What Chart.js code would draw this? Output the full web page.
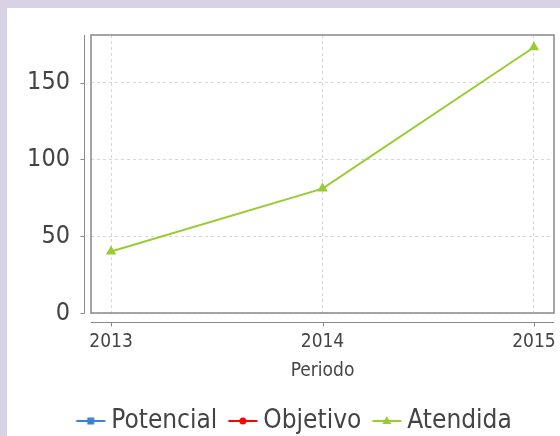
<!DOCTYPE html>
<html>
<head>
<meta charset="utf-8">
<script src="https://cdn.jsdelivr.net/npm/chart.js@4/dist/chart.umd.min.js"></script>
<style>
  html, body { margin: 0; padding: 0; background: #d9d1e4; }
  #wrap { position: absolute; left: 7px; top: 8px; width: 553px; height: 428px; background: #fff; }
  canvas { display: block; }
</style>
</head>
<body>
<div id="wrap"><canvas id="chart" width="553" height="428"></canvas></div>
<script>
const years = [2013, 2014, 2015]
const potencial = [null, null, null]
const objetivo = [null, null, null]
const atendida = [40, 81, 173]
const yTicks = [0, 50, 100, 150]

const FONT = '"DejaVu Sans Condensed", "DejaVu Sans", sans-serif'
const green = '#99cc33'

// legend symbol: short line with a marker in the middle
function makeSymbol(color, style) {
  const c = document.createElement('canvas')
  c.width = 44
  c.height = 20
  const g = c.getContext('2d')
  g.strokeStyle = color
  g.fillStyle = color
  g.lineWidth = 2
  g.beginPath()
  g.moveTo(14.5, 10)
  g.lineTo(43.5, 10)
  g.stroke()
  const cx = 29, cy = 10
  g.beginPath()
  if (style === 'rect') {
    g.fillRect(cx - 3.5, cy - 3.5, 7, 7)
  } else if (style === 'circle') {
    g.arc(cx, cy, 3.5, 0, Math.PI * 2)
    g.fill()
  } else {
    g.moveTo(cx, cy - 5)
    g.lineTo(cx + 4.5, cy + 3)
    g.lineTo(cx - 4.5, cy + 3)
    g.closePath()
    g.fill()
  }
  return c
}

const symbols = [
  makeSymbol('#3e7fcf', 'rect'),
  makeSymbol('#ff0000', 'circle'),
  makeSymbol(green, 'triangle')
]

// plot outline, offset axis lines and tick marks
const frame = {
  id: 'frame',
  afterDraw(chart) {
    const { ctx, chartArea: a, scales } = chart
    ctx.save()
    ctx.strokeStyle = '#888'
    ctx.lineWidth = 1.5
    ctx.strokeRect(a.left, a.top, a.right - a.left, a.bottom - a.top)
    ctx.lineWidth = 1
    const ax = Math.round(a.left - 7) + 0.5
    const ay = Math.round(a.bottom + 9) + 0.5
    ctx.beginPath()
    ctx.moveTo(ax, a.top)
    ctx.lineTo(ax, a.bottom)
    ctx.moveTo(a.left, ay)
    ctx.lineTo(a.right, ay)
    yTicks.forEach(v => {
      const y = Math.round(scales.y.getPixelForValue(v)) + 0.5
      ctx.moveTo(ax - 4, y)
      ctx.lineTo(ax, y)
    })
    years.forEach(v => {
      const x = Math.round(scales.x.getPixelForValue(v)) + 0.5
      ctx.moveTo(x, ay)
      ctx.lineTo(x, ay + 4)
    })
    ctx.stroke()
    ctx.restore()
  }
}

new Chart(document.getElementById('chart'), {
  type: 'line',
  data: {
    datasets: [
      {
        label: 'Potencial',
        data: years.map((x, i) => ({ x, y: potencial[i] })),
        borderColor: '#3e7fcf',
        backgroundColor: '#3e7fcf',
        pointStyle: 'rect'
      },
      {
        label: 'Objetivo',
        data: years.map((x, i) => ({ x, y: objetivo[i] })),
        borderColor: '#ff0000',
        backgroundColor: '#ff0000',
        pointStyle: 'circle'
      },
      {
        label: 'Atendida',
        data: years.map((x, i) => ({ x, y: atendida[i] })),
        borderColor: green,
        backgroundColor: green,
        borderWidth: 2,
        tension: 0,
        pointStyle: 'triangle',
        pointRadius: 6,
        pointBorderWidth: 0
      }
    ]
  },
  options: {
    responsive: false,
    animation: false,
    layout: {
      padding: { left: 20, right: 6, top: 27, bottom: -8 }
    },
    plugins: {
      legend: {
        position: 'bottom',
        labels: {
          usePointStyle: true,
          pointStyleWidth: 29,
          padding: 4,
          color: '#444',
          font: { family: FONT, size: 26 },
          generateLabels(chart) {
            return Chart.defaults.plugins.legend.labels.generateLabels(chart).map((item, i) => {
              item.pointStyle = symbols[i]
              return item
            })
          }
        }
      },
      tooltip: { enabled: false }
    },
    scales: {
      x: {
        type: 'linear',
        min: 2012.905,
        max: 2015.095,
        afterBuildTicks(scale) {
          scale.ticks = years.map(v => ({ value: v }))
        },
        afterFit(scale) {
          scale.height = 91
          scale.paddingLeft = 0
          scale.paddingRight = 0
        },
        border: { display: false, dash: [3, 3] },
        grid: {
          color: '#d6d6d6',
          drawTicks: false
        },
        ticks: {
          padding: 18,
          color: '#444',
          font: { family: FONT, size: 19 },
          callback: v => String(v)
        },
        title: {
          display: true,
          text: 'Periodo',
          color: '#444',
          font: { family: FONT, size: 19 },
          padding: { top: 0, bottom: 22 }
        }
      },
      y: {
        min: 0,
        max: 181,
        afterBuildTicks(scale) {
          scale.ticks = yTicks.map(v => ({ value: v }))
        },
        afterFit(scale) {
          scale.width = 64
          scale.paddingTop = 0
          scale.paddingBottom = 0
        },
        border: { display: false, dash: [3, 3] },
        grid: {
          color: '#d6d6d6',
          drawTicks: false
        },
        ticks: {
          padding: 21,
          color: '#444',
          font: { family: FONT, size: 25 }
        }
      }
    }
  },
  plugins: [frame]
})
</script>
</body>
</html>
